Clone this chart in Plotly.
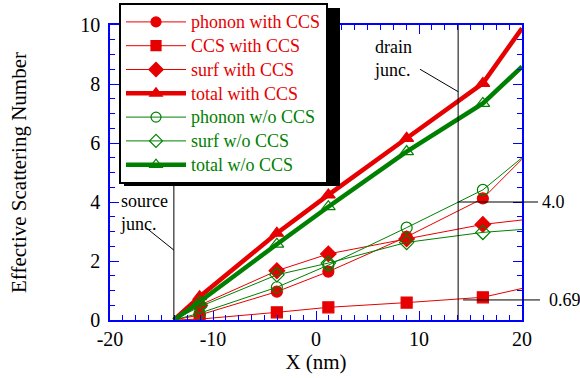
import plotly.graph_objects as go

# ---- data ----
x_line = [-13.8, -11.3, -3.8, 1.2, 8.8, 16.2, 20.0]
x_mark = [-11.3, -3.8, 1.2, 8.8, 16.2]

phonon_ccs = [0.0, 0.17, 0.96, 1.64, 2.82, 4.12, 5.45]
ccs_ccs = [0.0, 0.03, 0.26, 0.43, 0.59, 0.77, 1.07]
surf_ccs = [0.0, 0.50, 1.67, 2.24, 2.75, 3.24, 3.39]
total_ccs = [0.0, 0.79, 2.94, 4.24, 6.16, 8.02, 9.89]
phonon_wo = [0.0, 0.23, 1.11, 1.86, 3.13, 4.41, 5.50]
surf_wo = [0.0, 0.45, 1.53, 1.93, 2.63, 2.97, 3.07]
total_wo = [0.0, 0.62, 2.57, 3.84, 5.71, 7.34, 8.59]

x_tickvals = [-20, -10, 0, 10, 20]
x_ticktext = ["-20", "-10", "0", "10", "20"]
y_tickvals = [0, 2, 4, 6, 8, 10]
y_ticktext = ["0", "2", "4", "6", "8", "10"]

source_junc = -13.8
drain_junc = 13.8
mark_40 = 4.0
mark_069 = 0.69

X_RANGE = [-20, 20]
Y_RANGE = [0, 10]

RED = "rgb(230,0,0)"
GREEN = "rgb(0,128,0)"
FONT = "Liberation Serif"

W, H = 580, 378
ML, MT, MR, MB = 110, 25, 58, 58
PW, PH = W - ML - MR, H - MT - MB


def xpaper(v):
    return (v - X_RANGE[0]) / (X_RANGE[1] - X_RANGE[0])


def px_x(p):
    return (p - ML) / PW


def px_y(p):
    return (H - MB - p) / PH


series = [
    ("phonon with CCS", phonon_ccs, RED, 1, "circle", 11),
    ("CCS with CCS", ccs_ccs, RED, 1, "square", 11),
    ("surf with CCS", surf_ccs, RED, 1, "diamond", 12),
    ("total with CCS", total_ccs, RED, 4.5, "triangle-up", 12),
    ("phonon w/o CCS", phonon_wo, GREEN, 1, "circle-open", 11),
    ("surf w/o CCS", surf_wo, GREEN, 1, "diamond-open", 11),
    ("total w/o CCS", total_wo, GREEN, 4.5, "triangle-up-open", 12),
]

fig = go.Figure()
for name, ys, col, w, sym, sz in series:
    fig.add_trace(go.Scatter(x=x_line, y=ys, mode="lines",
                             line=dict(color=col, width=w), showlegend=False,
                             hoverinfo="skip"))
    fig.add_trace(go.Scatter(x=x_mark, y=ys[1:-1], mode="markers",
                             marker=dict(symbol=sym, size=sz, color=col,
                                         line=dict(color=col, width=1.2)),
                             showlegend=False))
for name, ys, col, w, sym, sz in series:
    fig.add_trace(go.Scatter(
        x=[None], y=[None], mode="lines+markers",
        name=f'<span style="color:{col};font-size:18px">{name}</span>',
        line=dict(color=col, width=w),
        marker=dict(symbol=sym, size=sz - 1, color=col,
                    line=dict(color=col, width=1.2))))

# junction lines
for xj in (source_junc, drain_junc):
    fig.add_shape(type="line", x0=xj, x1=xj, y0=Y_RANGE[0], y1=Y_RANGE[1],
                  xref="x", yref="y", line=dict(color="black", width=1))
# leader lines
fig.add_shape(type="line", x0=-16.44, y0=3.11, x1=source_junc, y1=2.37,
              line=dict(color="black", width=1))
fig.add_shape(type="line", x0=10.1, y0=8.5, x1=drain_junc, y1=7.74,
              line=dict(color="black", width=1))
# value marker lines (extend beyond plot to the labels)
fig.add_shape(type="line", xref="paper", yref="y",
              x0=xpaper(drain_junc), x1=px_x(538), y0=mark_40, y1=mark_40,
              line=dict(color="black", width=1))
fig.add_shape(type="line", xref="paper", yref="y",
              x0=xpaper(drain_junc) + 0.012, x1=px_x(540), y0=0.68, y1=0.68,
              line=dict(color="black", width=1))
# legend shadow
fig.add_shape(type="rect", xref="paper", yref="paper",
              x0=px_x(124), x1=px_x(340), y0=px_y(186), y1=px_y(8),
              fillcolor="black", line=dict(width=0), layer="above")

fig.add_annotation(x=-19.25, y=3.66, text="source<br>junc.", showarrow=False,
                   xanchor="left", yanchor="middle", align="left",
                   font=dict(family=FONT, size=18, color="black"))
fig.add_annotation(x=5.4, y=8.88, text="drain<br>junc.", showarrow=False,
                   xanchor="left", yanchor="middle", align="left",
                   font=dict(family=FONT, size=18, color="black"))
fig.add_annotation(x=px_x(540), xref="paper", y=mark_40, text="4.0",
                   showarrow=False, xanchor="left", yanchor="middle",
                   font=dict(family=FONT, size=18, color="black"))
fig.add_annotation(x=px_x(547), xref="paper", y=0.68, text=str(mark_069),
                   showarrow=False, xanchor="left", yanchor="middle",
                   font=dict(family=FONT, size=18, color="black"))

axis_common = dict(showline=True, linecolor="blue", linewidth=1.5, mirror="ticks",
                   ticks="inside", tickcolor="blue", ticklen=9, tickwidth=1,
                   showgrid=False, zeroline=False, automargin=False,
                   tickmode="array",
                   tickfont=dict(family=FONT, size=20, color="black"))
fig.update_xaxes(range=X_RANGE, tickvals=x_tickvals, ticktext=x_ticktext,
                 minor=dict(dtick=1.25, tick0=0, ticklen=5, ticks="inside",
                            tickcolor="blue"),
                 ticklabelstandoff=0,
                 title=dict(text="X (nm)", font=dict(family=FONT, size=21, color="black"),
                            standoff=3),
                 **axis_common)
fig.update_yaxes(range=Y_RANGE, tickvals=y_tickvals, ticktext=y_ticktext,
                 minor=dict(dtick=0.5, tick0=0, ticklen=5, ticks="inside",
                            tickcolor="blue"),
                 ticklabelstandoff=4,
                 title=dict(text="Effective Scattering Number",
                            font=dict(family=FONT, size=21, color="black"), standoff=48),
                 **axis_common)

fig.update_layout(
    width=W, height=H,
    margin=dict(l=ML, r=MR, t=MT, b=MB, autoexpand=False),
    paper_bgcolor="white", plot_bgcolor="white",
    showlegend=True,
    legend=dict(x=px_x(119), y=px_y(3), xanchor="left", yanchor="top",
                bgcolor="white", bordercolor="black", borderwidth=2,
                font=dict(family=FONT, size=16), itemwidth=60,
                tracegroupgap=0),
)

fig.write_html("out.html", config={"displayModeBar": False},
               post_script="document.body.style.margin='0';"
                           "document.body.style.overflow='hidden';")
